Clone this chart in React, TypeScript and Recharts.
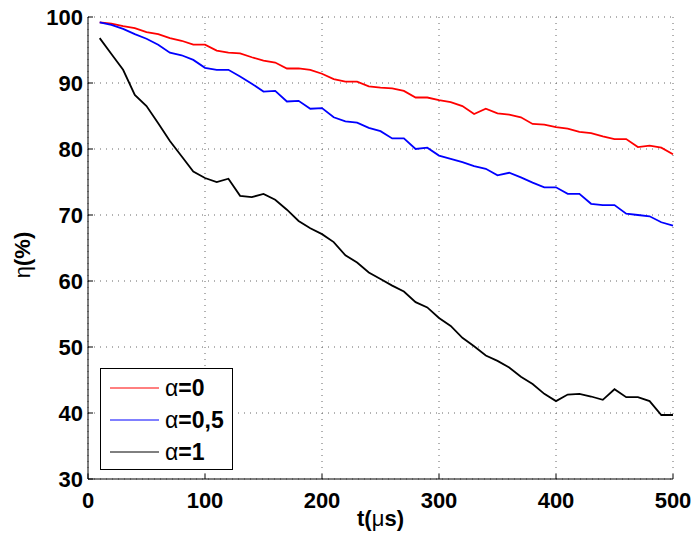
import React from 'react';
import { LineChart, Line, XAxis, YAxis, CartesianGrid, Legend, Label } from 'recharts';

const FONT = '"Liberation Sans", Arial, Helvetica, sans-serif';

// t in microseconds
const times = [
  10, 20, 30, 40, 50, 60, 70, 80, 90, 100,
  110, 120, 130, 140, 150, 160, 170, 180, 190, 200,
  210, 220, 230, 240, 250, 260, 270, 280, 290, 300,
  310, 320, 330, 340, 350, 360, 370, 380, 390, 400,
  410, 420, 430, 440, 450, 460, 470, 480, 490, 500,
];

const etaAlpha0 = [
  99.2, 99.0, 98.6, 98.3, 97.7, 97.4, 96.8, 96.4, 95.8, 95.8,
  94.9, 94.6, 94.5, 93.9, 93.4, 93.1, 92.2, 92.2, 92.0, 91.4,
  90.6, 90.2, 90.2, 89.5, 89.3, 89.2, 88.8, 87.8, 87.8, 87.4,
  87.1, 86.5, 85.3, 86.1, 85.4, 85.2, 84.8, 83.8, 83.7, 83.3,
  83.1, 82.6, 82.4, 81.9, 81.5, 81.5, 80.3, 80.5, 80.2, 79.2,
];

const etaAlpha05 = [
  99.2, 98.8, 98.2, 97.4, 96.7, 95.8, 94.6, 94.2, 93.5, 92.3,
  92.0, 92.0, 91.0, 89.9, 88.7, 88.8, 87.2, 87.3, 86.1, 86.2,
  84.8, 84.2, 84.0, 83.2, 82.7, 81.6, 81.6, 80.0, 80.2, 79.0,
  78.5, 78.0, 77.4, 77.0, 76.0, 76.4, 75.7, 74.9, 74.2, 74.2,
  73.2, 73.2, 71.7, 71.5, 71.5, 70.2, 70.0, 69.8, 68.9, 68.4,
];

const etaAlpha1 = [
  96.8, 94.4, 92.0, 88.2, 86.5, 83.9, 81.2, 78.9, 76.6, 75.6,
  75.0, 75.5, 72.9, 72.7, 73.2, 72.3, 70.8, 69.1, 68.0, 67.1,
  65.9, 63.9, 62.8, 61.3, 60.3, 59.3, 58.4, 56.8, 56.0, 54.4,
  53.2, 51.4, 50.1, 48.7, 47.9, 46.9, 45.5, 44.4, 42.9, 41.8,
  42.8, 42.9, 42.5, 42.0, 43.6, 42.4, 42.4, 41.8, 39.7, 39.7,
];

const xTicks = [0, 100, 200, 300, 400, 500];
const yTicks = [30, 40, 50, 60, 70, 80, 90, 100];

const series = [
  { key: 'a0', label: '=0', color: '#ff0000' },
  { key: 'a05', label: '=0,5', color: '#0000ff' },
  { key: 'a1', label: '=1', color: '#000000' },
];

const data = times.map((t, i) => ({
  t,
  a0: etaAlpha0[i],
  a05: etaAlpha05[i],
  a1: etaAlpha1[i],
}));

const tickStyle = { fontSize: 22, fontWeight: 700, fill: '#000', fontFamily: FONT };

const LegendBox = () => (
  <div
    style={{
      width: 133,
      height: 102,
      boxSizing: 'border-box',
      border: '1px solid #000',
      background: '#fff',
      paddingTop: 3,
      fontFamily: FONT,
    }}
  >
    {series.map(s => (
      <div key={s.key} style={{ display: 'flex', alignItems: 'center', height: 32 }}>
        <svg width={64} height={10} style={{ display: 'block' }}>
          <line x1={9} x2={58} y1={5} y2={5} stroke={s.color} strokeWidth={1} />
        </svg>
        <span style={{ fontSize: 23, color: '#000', lineHeight: '23px' }}>
          <span style={{ fontWeight: 400 }}>α</span>
          <span style={{ fontWeight: 700 }}>{s.label}</span>
        </span>
      </div>
    ))}
  </div>
);

const YTitle = ({ viewBox }: any) => {
  const cy = viewBox.y + viewBox.height / 2 + 7;
  return (
    <text
      x={30}
      y={cy}
      transform={`rotate(-90, 30, ${cy})`}
      textAnchor="middle"
      style={{ fontSize: 22, fontWeight: 700, fontFamily: FONT }}
      fill="#000"
    >
      <tspan fontWeight={400}>η</tspan>(%)
    </text>
  );
};

const XTitle = ({ viewBox }: any) => {
  const cx = viewBox.x + viewBox.width / 2;
  return (
    <text
      x={cx}
      y={526}
      textAnchor="middle"
      style={{ fontSize: 22, fontWeight: 700, fontFamily: FONT }}
      fill="#000"
    >
      t(<tspan fontWeight={400}>μ</tspan>s)
    </text>
  );
};

export default function App() {
  return (
    <div style={{ position: 'absolute', left: 0, top: 0, background: '#fff' }}>
      <LineChart width={694} height={537} data={data} margin={{ top: 17, right: 21, bottom: 0, left: 0 }}>
        <CartesianGrid
          xAxisId="main"
          yAxisId="main"
          stroke="#666"
          strokeDasharray="1 5"
          horizontalValues={yTicks}
          verticalValues={xTicks}
        />
        <XAxis
          xAxisId="main"
          dataKey="t"
          type="number"
          domain={[0, 500]}
          ticks={xTicks}
          height={58}
          axisLine={{ stroke: '#000', strokeWidth: 1 }}
          tickLine={{ stroke: '#000' }}
          tickSize={-5}
          tickMargin={18}
          tick={tickStyle}
          interval={0}
        >
          <Label content={XTitle} />
        </XAxis>
        <XAxis
          xAxisId="top"
          orientation="top"
          dataKey="t"
          type="number"
          domain={[0, 500]}
          ticks={xTicks}
          height={0}
          axisLine={{ stroke: '#000', strokeWidth: 1 }}
          tickLine={{ stroke: '#000' }}
          tickSize={-5}
          tickFormatter={() => ''}
          interval={0}
        />
        <YAxis
          yAxisId="main"
          type="number"
          domain={[30, 100]}
          ticks={yTicks}
          width={88}
          axisLine={{ stroke: '#000', strokeWidth: 1 }}
          tickLine={{ stroke: '#000' }}
          tickSize={-5}
          tickMargin={10}
          tick={tickStyle}
          interval={0}
        >
          <Label content={YTitle} />
        </YAxis>
        <YAxis
          yAxisId="right"
          orientation="right"
          type="number"
          domain={[30, 100]}
          ticks={yTicks}
          width={0}
          axisLine={{ stroke: '#000', strokeWidth: 1 }}
          tickLine={{ stroke: '#000' }}
          tickSize={-5}
          tickFormatter={() => ''}
          interval={0}
        />
        <Legend
          layout="vertical"
          align="center"
          verticalAlign="middle"
          content={LegendBox}
          wrapperStyle={{ left: 100, top: 368, width: 133, height: 102 }}
        />
        {series.map(s => (
          <Line
            key={s.key}
            xAxisId="main"
            yAxisId="main"
            type="linear"
            dataKey={s.key}
            stroke={s.color}
            strokeWidth={1.8}
            dot={false}
            isAnimationActive={false}
          />
        ))}
      </LineChart>
    </div>
  );
}
